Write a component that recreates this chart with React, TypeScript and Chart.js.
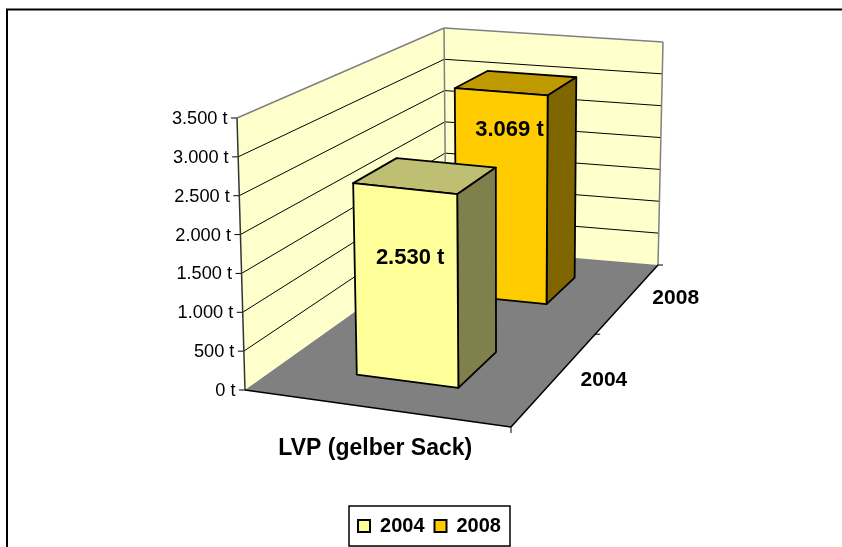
import React, { useEffect, useRef } from "react";
import { Chart, registerables } from "chart.js";

Chart.register(...registerables);

const categories = ["LVP (gelber Sack)"];
const years = ["2004", "2008"];
const values2004 = [2530];
const values2008 = [3069];
const tickMax = 3500;
const tickStep = 500;

type P = [number, number];
const FONT = '"Liberation Sans", Arial, sans-serif';

// Projection frame of the 3D box
const floorQuad: P[] = [[245, 390], [511, 427], [658, 265], [446, 247]];
const topQuad: P[] = [[237, 118], [512, 147], [663, 42], [444, 28]];

function homography(q: P[]) {
  const [[x0, y0], [x1, y1], [x2, y2], [x3, y3]] = q;
  const dx1 = x1 - x2, dx2 = x3 - x2, sx = x0 - x1 + x2 - x3;
  const dy1 = y1 - y2, dy2 = y3 - y2, sy = y0 - y1 + y2 - y3;
  const den = dx1 * dy2 - dx2 * dy1;
  const g = (sx * dy2 - dx2 * sy) / den;
  const h = (dx1 * sy - sx * dy1) / den;
  const a = x1 - x0 + g * x1, b = x3 - x0 + h * x3;
  const d = y1 - y0 + g * y1, e = y3 - y0 + h * y3;
  return (u: number, v: number): P => {
    const w = g * u + h * v + 1;
    return [(a * u + b * v + x0) / w, (d * u + e * v + y0) / w];
  };
}
const hBottom = homography(floorQuad);
const hTop = homography(topQuad);
function project(u: number, d: number, t: number): P {
  const p = hBottom(u, d), q = hTop(u, d);
  return [p[0] + (q[0] - p[0]) * t, p[1] + (q[1] - p[1]) * t];
}

const barU = [0.315, 0.71];
const barD = [0.24, 0.752];
const barHalfDepth = 0.1;
const labelAt = [0.64, 0.815];
const labelDx = [5, 9];
const depthLabelOffset: P[] = [[47.5, 3.5], [47, 1]];

const faceColors = [
  { front: "#FFFF99", top: "#BFBF73", side: "#80804D" },
  { front: "#FFCC00", top: "#BF9900", side: "#806600" },
];

function poly(ctx: CanvasRenderingContext2D, pts: P[], fill: string, stroke?: string, lw = 1) {
  ctx.beginPath();
  pts.forEach((p, i) => (i ? ctx.lineTo(p[0], p[1]) : ctx.moveTo(p[0], p[1])));
  ctx.closePath();
  ctx.fillStyle = fill;
  ctx.fill();
  if (stroke) {
    ctx.strokeStyle = stroke;
    ctx.lineWidth = lw;
    ctx.lineJoin = "round";
    ctx.stroke();
  }
}
function line(ctx: CanvasRenderingContext2D, a: P, b: P, color: string, lw = 1) {
  ctx.beginPath();
  ctx.moveTo(a[0], a[1]);
  ctx.lineTo(b[0], b[1]);
  ctx.strokeStyle = color;
  ctx.lineWidth = lw;
  ctx.stroke();
}

const scene3d = {
  id: "scene3d",
  beforeDatasetsDraw(chart: any) {
    const ctx: CanvasRenderingContext2D = chart.ctx;
    const y = chart.scales.y;
    const frac = (v: number) => (y.getPixelForValue(0) - y.getPixelForValue(v)) / (y.getPixelForValue(0) - y.getPixelForValue(tickMax));
    ctx.save();
    // outer frame
    line(ctx, [7, 547], [7, 9.5], "#000", 2);
    line(ctx, [6, 9.5], [842, 9.5], "#000", 2);

    // walls and floor
    poly(ctx, [project(0, 0, 0), project(0, 1, 0), project(0, 1, 1), project(0, 0, 1)], "#FFFFCC");
    poly(ctx, [project(0, 1, 0), project(1, 1, 0), project(1, 1, 1), project(0, 1, 1)], "#FFFFCC");
    poly(ctx, [project(0, 0, 0), project(1, 0, 0), project(1, 1, 0), project(0, 1, 0)], "#808080");

    // grid lines and value ticks
    ctx.font = `18.2px ${FONT}`;
    ctx.fillStyle = "#000";
    ctx.textAlign = "right";
    ctx.textBaseline = "middle";
    y.ticks.forEach((tick: any) => {
      const t = frac(tick.value);
      const a = project(0, 0, t);
      if (tick.value > 0 && tick.value < tickMax) {
        line(ctx, a, project(0, 1, t), "#000", 1);
        line(ctx, project(0, 1, t), project(1, 1, t), "#000", 1);
      }
      line(ctx, [a[0] - 6, a[1]], a, "#000", 1);
      ctx.fillStyle = "#000";
      ctx.fillText(tick.label, a[0] - 9.5, a[1] + 1);
    });

    // wall edges
    line(ctx, project(0, 0, 1), project(0, 1, 1), "#808080", 1.5);
    line(ctx, project(0, 1, 1), project(1, 1, 1), "#808080", 1.5);
    line(ctx, project(0, 1, 0), project(0, 1, 1), "#808080", 1.5);
    line(ctx, project(1, 1, 0), project(1, 1, 1), "#808080", 1.5);
    line(ctx, project(0, 0, 0), project(0, 0, 1), "#333", 1.5);

    // floor front and side axes
    line(ctx, project(0, 0, 0), project(1, 0, 0), "#000", 1.5);
    line(ctx, project(1, 0, 0), project(1, 1, 0), "#000", 1.5);
    const bf = project(1, 0, 0);
    line(ctx, bf, [bf[0], bf[1] + 6], "#000", 1);
    [0.5, 1].forEach((d) => {
      const p = project(1, d, 0);
      line(ctx, p, [p[0] + 5, p[1]], "#000", 1);
    });

    // bars, back to front
    const order = [1, 0];
    order.forEach((i) => {
      const v = chart.data.datasets[i].data[0];
      const t = frac(v);
      const [u0, u1] = barU;
      const d0 = barD[i] - barHalfDepth, d1 = barD[i] + barHalfDepth;
      const c = faceColors[i];
      poly(ctx, [project(u0, d0, t), project(u1, d0, t), project(u1, d1, t), project(u0, d1, t)], c.top, "#000", 1.8);
      poly(ctx, [project(u1, d0, 0), project(u1, d1, 0), project(u1, d1, t), project(u1, d0, t)], c.side, "#000", 1.8);
      poly(ctx, [project(u0, d0, 0), project(u1, d0, 0), project(u1, d0, t), project(u0, d0, t)], c.front, "#000", 1.8);
    });

    // data labels
    ctx.font = `bold 22px ${FONT}`;
    ctx.textAlign = "center";
    ctx.fillStyle = "#000";
    order.forEach((i) => {
      const v = chart.data.datasets[i].data[0];
      const p = project((barU[0] + barU[1]) / 2, barD[i] - barHalfDepth, frac(v) * labelAt[i]);
      ctx.fillStyle = "#000";
      ctx.fillText(`${y.options.ticks.callback(v)}`, p[0] + labelDx[i], p[1]);
    });

    // category labels
    ctx.font = `bold 23px ${FONT}`;
    const front = project(0.5, 0, 0);
    ctx.fillText(chart.data.labels[0], front[0] + 3, front[1] + 41);
    ctx.font = `bold 21px ${FONT}`;
    years.forEach((yr, i) => {
      const p = project(1, (i + 0.5) / years.length, 0);
      ctx.fillText(yr, p[0] + depthLabelOffset[i][0], p[1] + depthLabelOffset[i][1]);
    });

    ctx.restore();
    return false;
  },
  afterDraw(chart: any) {
    const ctx: CanvasRenderingContext2D = chart.ctx;
    const lg = chart.legend;
    const hb = lg.legendHitBoxes;
    const left = hb[0].left - 9;
    const right = hb[hb.length - 1].left + hb[hb.length - 1].width + 9;
    ctx.save();
    ctx.strokeStyle = "#aaa";
    ctx.lineWidth = 1;
    ctx.beginPath();
    ctx.moveTo(left + 1, lg.bottom + 1);
    ctx.lineTo(right + 1, lg.bottom + 1);
    ctx.stroke();
    ctx.strokeStyle = "#000";
    ctx.lineWidth = 1.5;
    ctx.strokeRect(left, lg.top, right - left, lg.bottom - lg.top);
    ctx.restore();
  },
};

const formatTons = (v: any) => `${String(v).replace(/\B(?=(\d{3})+$)/g, ".")} t`;

export default function App() {
  const ref = useRef<HTMLCanvasElement>(null);
  useEffect(() => {
    const chart = new Chart(ref.current!, {
      type: "bar",
      data: {
        labels: categories,
        datasets: [
          { label: years[0], data: values2004, backgroundColor: "#FFFF99", borderColor: "#000", borderWidth: 2 },
          { label: years[1], data: values2008, backgroundColor: "#FFCC00", borderColor: "#000", borderWidth: 2 },
        ],
      },
      options: {
        responsive: false,
        animation: false,
        layout: { padding: { left: 17, right: 0, top: 118, bottom: 1 } },
        plugins: {
          tooltip: { enabled: false },
          title: { display: false },
          legend: {
            position: "bottom",
            labels: {
              boxWidth: 12,
              boxHeight: 12,
              padding: 10,
              color: "#000",
              font: { family: FONT, size: 20, weight: "bold" },
            },
          },
        },
        scales: {
          x: {
            grid: { display: false },
            border: { display: false },
            ticks: { display: false },
            afterFit(s: any) {
              s.height = 118;
            },
          },
          y: {
            display: false,
            min: 0,
            max: tickMax,
            ticks: { stepSize: tickStep, callback: formatTons },
          },
        },
      },
      plugins: [scene3d],
    } as any);
    return () => chart.destroy();
  }, []);
  return (
    <div style={{ position: "fixed", left: 0, top: 0, width: 842, height: 547, background: "#fff" }}>
      <canvas ref={ref} width={842} height={547} style={{ display: "block" }} />
    </div>
  );
}
